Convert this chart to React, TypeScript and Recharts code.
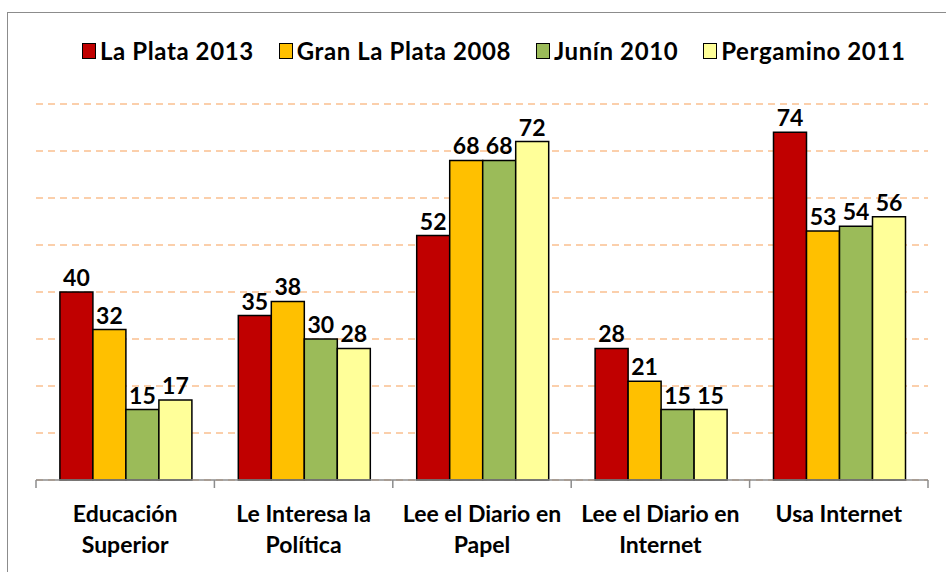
import { BarChart, Bar, XAxis, YAxis, CartesianGrid, LabelList } from 'recharts';

const categories = [
  ['Educación', 'Superior'],
  ['Le Interesa la', 'Política'],
  ['Lee el Diario en', 'Papel'],
  ['Lee el Diario en', 'Internet'],
  ['Usa Internet'],
];

const laPlata2013 = [40, 35, 52, 28, 74];
const granLaPlata2008 = [32, 38, 68, 21, 53];
const junin2010 = [15, 30, 68, 15, 54];
const pergamino2011 = [17, 28, 72, 15, 56];

const yTicks = [0, 10, 20, 30, 40, 50, 60, 70, 80];

const SERIES = [
  { key: 'laPlata2013', name: 'La Plata 2013', color: '#C00000' },
  { key: 'granLaPlata2008', name: 'Gran La Plata 2008', color: '#FFC000' },
  { key: 'junin2010', name: 'Junín 2010', color: '#9BBB59' },
  { key: 'pergamino2011', name: 'Pergamino 2011', color: '#FFFF99' },
];

const data = categories.map((lines, i) => ({
  name: lines.join(' '),
  laPlata2013: laPlata2013[i],
  granLaPlata2008: granLaPlata2008[i],
  junin2010: junin2010[i],
  pergamino2011: pergamino2011[i],
}));

const FONT = 'Lato, "Open Sans", sans-serif';

const CategoryTick = (props: any) => {
  const { x, y, payload, index, width, visibleTicksCount } = props;
  const half = payload.offset ?? width / visibleTicksCount / 2;
  const lines = categories[index] || [];
  return (
    <g>
      <line x1={x - half} y1={y - 8} x2={x - half} y2={y} stroke="#8c8c8c" strokeWidth={1.5} />
      {index === visibleTicksCount - 1 && (
        <line x1={x + half} y1={y - 8} x2={x + half} y2={y} stroke="#8c8c8c" strokeWidth={1.5} />
      )}
      {lines.map((l, i) => (
        <text
          key={i}
          x={x}
          y={y + 34 + i * 31}
          textAnchor="middle"
          fontFamily={FONT}
          fontWeight="bold"
          fontSize={23}
          fill="#000"
        >
          {l}
        </text>
      ))}
    </g>
  );
};

export default function App() {
  return (
    <div style={{ position: 'absolute', left: 0, top: 0, width: 946, height: 572, overflow: 'hidden', background: '#fff' }}>
      <div
        style={{
          position: 'absolute',
          left: 7,
          top: 12,
          width: 960,
          height: 600,
          border: '1.5px solid #8c8c8c',
          boxSizing: 'border-box',
        }}
      />
      {/* leyenda */}
      <div
        style={{
          position: 'absolute',
          left: 82,
          top: 37,
          display: 'flex',
          gap: 25,
          fontFamily: FONT,
          fontWeight: 'bold',
          fontSize: 24,
          letterSpacing: 0.6,
          lineHeight: '28px',
          whiteSpace: 'nowrap',
        }}
      >
        {SERIES.map((s) => (
          <div key={s.key} style={{ display: 'flex', alignItems: 'center' }}>
            <span
              style={{
                display: 'inline-block',
                width: 12,
                height: 14,
                background: s.color,
                border: '1.5px solid #000',
                marginRight: 4,
              }}
            />
            <span>{s.name}</span>
          </div>
        ))}
      </div>
      <div style={{ position: 'absolute', left: 0, top: 0 }}>
        <BarChart
          width={946}
          height={572}
          data={data}
          margin={{ top: 104, right: 18, bottom: 0, left: 36 }}
          barCategoryGap="13.4%"
          barGap={0}
        >
          <CartesianGrid vertical={false} stroke="#FAC090" strokeWidth={1.5} strokeDasharray="7 5" />
          <YAxis hide domain={[0, 80]} ticks={yTicks} />
          <XAxis
            dataKey="name"
            axisLine={{ stroke: '#8c8c8c', strokeWidth: 1.5 }}
            tickLine={false}
            tick={<CategoryTick />}
            height={92}
            interval={0}
          />
          {SERIES.map((s) => (
            <Bar key={s.key} dataKey={s.key} name={s.name} fill={s.color} stroke="#000" strokeWidth={1.5} isAnimationActive={false}>
              <LabelList
                dataKey={s.key}
                position="top"
                offset={6}
                fill="#000"
                fontFamily={FONT}
                fontWeight="bold"
                fontSize={23}
              />
            </Bar>
          ))}
        </BarChart>
      </div>
    </div>
  );
}
